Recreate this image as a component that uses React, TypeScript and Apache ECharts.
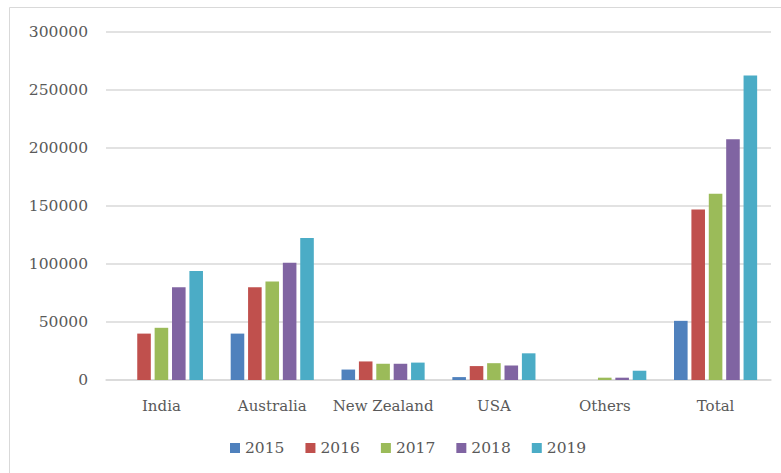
import React, { useEffect, useRef } from "react";
import * as echarts from "echarts";

const categories = ["India", "Australia", "New Zealand", "USA", "Others", "Total"];
const years = ["2015", "2016", "2017", "2018", "2019"];
const v2015 = [0, 40000, 9000, 2500, 0, 51000];
const v2016 = [40000, 80000, 16000, 12000, 0, 147000];
const v2017 = [45000, 85000, 14000, 14500, 2000, 160500];
const v2018 = [80000, 101000, 14000, 12500, 2000, 207500];
const v2019 = [94000, 122500, 15000, 23000, 8000, 262500];
const seriesValues = [v2015, v2016, v2017, v2018, v2019];
const colors = ["#4F81BD", "#C0504D", "#9BBB59", "#8064A2", "#4BACC6"];

const textColor = "#595959";
const fontFamily = "'DejaVu Serif', serif";

export default function App() {
  const ref = useRef<HTMLDivElement>(null);
  useEffect(() => {
    if (!ref.current) return;
    const chart = echarts.init(ref.current, undefined, { renderer: "svg" });
    chart.setOption({
      animation: false,
      backgroundColor: "#ffffff",
      color: colors,
      graphic: [
        {
          type: "rect",
          shape: { x: 9.5, y: 7.5, width: 800, height: 500 },
          style: { fill: "none", stroke: "#d9d9d9", lineWidth: 1 },
          silent: true,
          z: -1,
        },
      ],
      grid: { left: 106, right: 10, top: 32, bottom: 93 },
      legend: {
        data: years,
        bottom: 12,
        left: 225,
        itemWidth: 10,
        itemHeight: 10,
        itemGap: 21,
        icon: "rect",
        textStyle: { color: textColor, fontSize: 15.5, fontFamily },
      },
      xAxis: {
        type: "category",
        data: categories,
        axisLine: { lineStyle: { color: "#d9d9d9", width: 1.5 } },
        axisTick: { show: false },
        axisLabel: { color: textColor, fontSize: 15, fontFamily, margin: 18, interval: 0 },
      },
      yAxis: {
        type: "value",
        min: 0,
        max: 300000,
        interval: 50000,
        axisLine: { show: false },
        axisTick: { show: false },
        splitLine: { lineStyle: { color: "#d9d9d9", width: 1.5 } },
        axisLabel: {
          color: textColor,
          fontSize: 15.5,
          fontFamily,
          margin: 18,
          formatter: (v: number) => String(v),
        },
      },
      series: years.map((y, i) => ({
        name: y,
        type: "bar",
        data: seriesValues[i],
        barGap: "28%",
        barCategoryGap: "25%",
      })),
    });
    return () => chart.dispose();
  }, []);
  return <div ref={ref} style={{ width: 781, height: 473, position: "absolute", left: 0, top: 0 }} />;
}
